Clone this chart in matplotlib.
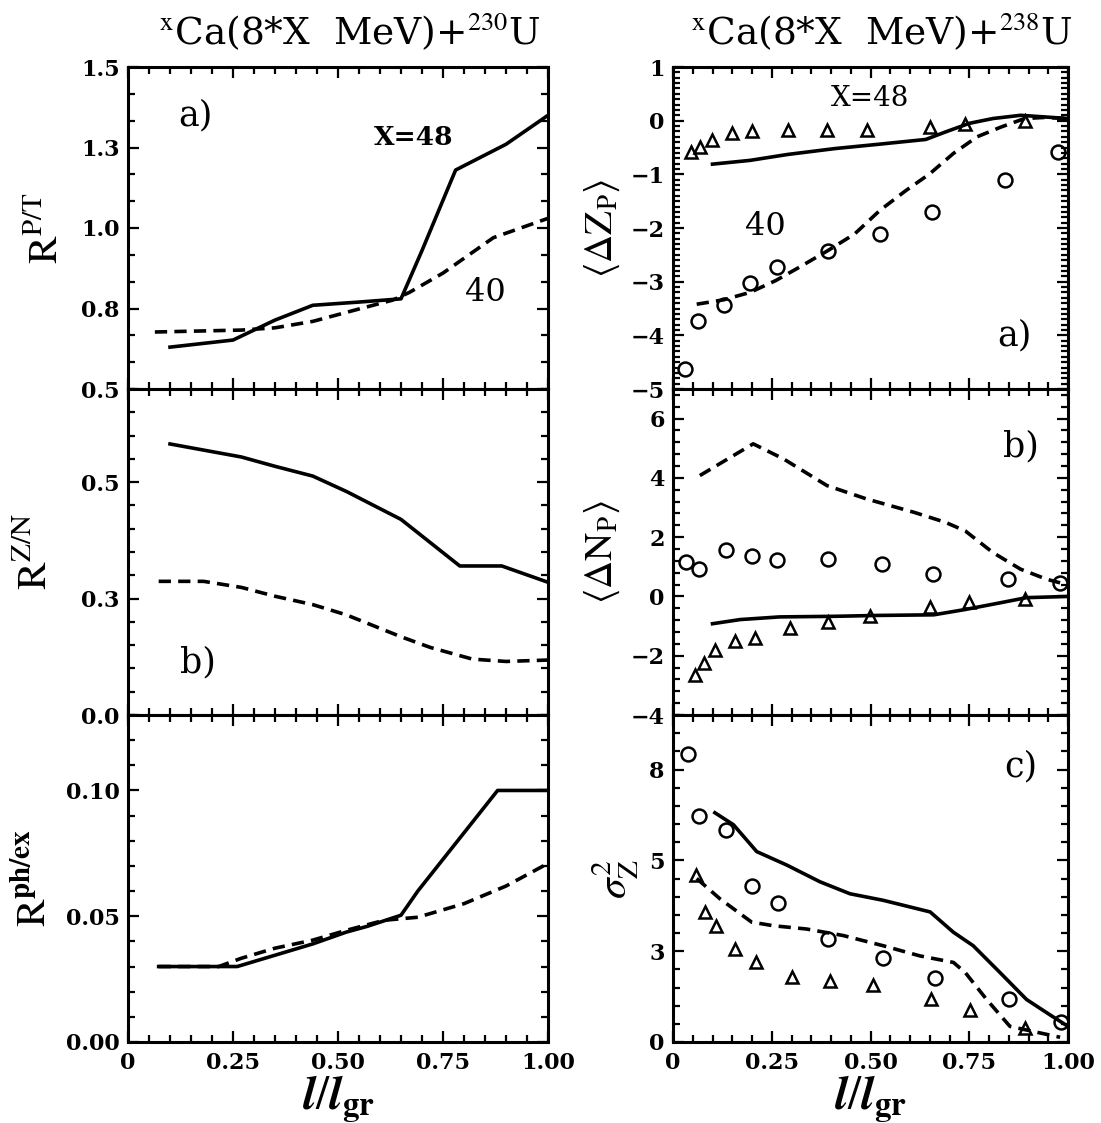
import matplotlib
matplotlib.use("Agg")
import matplotlib.pyplot as plt
from matplotlib.ticker import MultipleLocator, FixedLocator, FixedFormatter
from matplotlib.font_manager import FontProperties

plt.rcParams['font.family'] = ['DejaVu Serif']
plt.rcParams['mathtext.fontset'] = 'stix'

# ---------------- data: left column ----------------
# (a) R^{P/T}
a48_x = [0.10, 0.25, 0.35, 0.44, 0.55, 0.65, 0.70, 0.78, 0.90, 1.00]
a48_y = [0.63, 0.652, 0.714, 0.76, 0.77, 0.78, 0.93, 1.18, 1.26, 1.35]
a40_x = [0.064, 0.27, 0.35, 0.44, 0.54, 0.63, 0.67, 0.75, 0.87, 1.00]
a40_y = [0.677, 0.683, 0.69, 0.71, 0.745, 0.776, 0.80, 0.86, 0.97, 1.03]
# (b) R^{Z/N}
b48_x = [0.10, 0.27, 0.35, 0.44, 0.52, 0.65, 0.72, 0.79, 0.89, 1.00]
b48_y = [0.582, 0.554, 0.534, 0.513, 0.48, 0.42, 0.37, 0.32, 0.32, 0.285]
b40_x = [0.073, 0.18, 0.27, 0.35, 0.44, 0.52, 0.65, 0.72, 0.82, 0.90, 1.00]
b40_y = [0.287, 0.287, 0.274, 0.255, 0.237, 0.215, 0.168, 0.145, 0.12, 0.115, 0.118]
# (c) R^{ph/ex}
c48_x = [0.073, 0.26, 0.35, 0.44, 0.52, 0.57, 0.65, 0.69, 0.88, 1.00]
c48_y = [0.030, 0.030, 0.0345, 0.039, 0.0437, 0.046, 0.0504, 0.060, 0.100, 0.100]
c40_x = [0.073, 0.216, 0.27, 0.35, 0.44, 0.52, 0.61, 0.69, 0.80, 0.90, 1.00]
c40_y = [0.030, 0.030, 0.0333, 0.0373, 0.0405, 0.0444, 0.0484, 0.0496, 0.055, 0.062, 0.071]

# ---------------- data: right column ----------------
# (a) <dZ_P>
za48_x = [0.10, 0.195, 0.29, 0.41, 0.52, 0.64, 0.69, 0.75, 0.81, 0.88, 0.94, 1.00]
za48_y = [-0.81, -0.74, -0.63, -0.52, -0.44, -0.35, -0.21, -0.05, 0.04, 0.10, 0.07, 0.04]
za40_x = [0.06, 0.127, 0.195, 0.26, 0.32, 0.39, 0.46, 0.524, 0.59, 0.65, 0.71, 0.77, 0.83, 0.89, 0.94, 1.00]
za40_y = [-3.42, -3.34, -3.20, -2.98, -2.73, -2.43, -2.11, -1.67, -1.30, -0.99, -0.61, -0.30, -0.12, 0.04, 0.06, 0.04]
za_tri_x = [0.045, 0.068, 0.098, 0.149, 0.20, 0.29, 0.39, 0.49, 0.65, 0.74, 0.89]
za_tri_y = [-0.58, -0.49, -0.36, -0.23, -0.19, -0.18, -0.17, -0.17, -0.12, -0.07, 0.0]
za_cir_x = [0.03, 0.064, 0.13, 0.195, 0.264, 0.393, 0.524, 0.655, 0.84, 0.975]
za_cir_y = [-4.63, -3.73, -3.43, -3.03, -2.73, -2.42, -2.11, -1.70, -1.11, -0.58]
# (b) <dN_P>
nb48_x = [0.10, 0.17, 0.27, 0.41, 0.52, 0.66, 0.74, 0.83, 0.895, 1.00]
nb48_y = [-0.92, -0.78, -0.69, -0.67, -0.64, -0.62, -0.44, -0.21, -0.04, 0.0]
nb40_x = [0.068, 0.203, 0.28, 0.39, 0.49, 0.61, 0.69, 0.74, 0.81, 0.88, 0.946, 0.98]
nb40_y = [4.08, 5.15, 4.64, 3.74, 3.29, 2.84, 2.50, 2.21, 1.48, 0.92, 0.58, 0.46]
nb_tri_x = [0.056, 0.078, 0.106, 0.157, 0.208, 0.296, 0.393, 0.499, 0.65, 0.75, 0.89]
nb_tri_y = [-2.64, -2.25, -1.80, -1.51, -1.40, -1.06, -0.87, -0.67, -0.36, -0.19, -0.08]
nb_cir_x = [0.033, 0.067, 0.134, 0.199, 0.264, 0.393, 0.528, 0.659, 0.849, 0.98]
nb_cir_y = [1.16, 0.92, 1.57, 1.37, 1.22, 1.25, 1.08, 0.77, 0.58, 0.46]
# (c) sigma_Z^2
sc48_x = [0.106, 0.153, 0.212, 0.288, 0.372, 0.448, 0.532, 0.651, 0.71, 0.76, 0.828, 0.895, 0.954, 1.00]
sc48_y = [6.31, 5.98, 5.24, 4.87, 4.41, 4.08, 3.90, 3.58, 3.02, 2.65, 1.91, 1.17, 0.75, 0.43]
sc40_x = [0.06, 0.119, 0.199, 0.254, 0.338, 0.431, 0.532, 0.625, 0.71, 0.74, 0.794, 0.853, 0.912, 0.98]
sc40_y = [4.50, 3.94, 3.30, 3.20, 3.11, 2.93, 2.65, 2.37, 2.19, 1.91, 1.17, 0.43, 0.29, 0.13]
sc_tri_x = [0.058, 0.081, 0.108, 0.157, 0.209, 0.30, 0.397, 0.506, 0.653, 0.752, 0.891]
sc_tri_y = [4.59, 3.59, 3.18, 2.56, 2.19, 1.80, 1.68, 1.58, 1.17, 0.87, 0.38]
sc_cir_x = [0.039, 0.067, 0.134, 0.199, 0.267, 0.393, 0.531, 0.663, 0.851, 0.982]
sc_cir_y = [7.94, 6.21, 5.84, 4.30, 3.83, 2.83, 2.32, 1.77, 1.19, 0.56]

# tick labels (as printed in the figure)
la_ticks = [0.5, 0.75, 1.0, 1.25, 1.5]; la_labels = ["0.5", "0.8", "1.0", "1.3", "1.5"]
lb_ticks = [0.0, 0.25, 0.5];            lb_labels = ["0.0", "0.3", "0.5"]
lc_ticks = [0.0, 0.05, 0.10];           lc_labels = ["0.00", "0.05", "0.10"]
ra_ticks = [-5, -4, -3, -2, -1, 0, 1];   ra_labels = ["−5", "−4", "−3", "−2", "−1", "0", "1"]
rb_ticks = [-4, -2, 0, 2, 4, 6];        rb_labels = ["−4", "−2", "0", "2", "4", "6"]
rc_ticks = [0, 2.5, 5, 7.5];            rc_labels = ["0", "3", "5", "8"]
x_ticks = [0, 0.25, 0.5, 0.75, 1.0];    x_labels = ["0", "0.25", "0.50", "0.75", "1.00"]

W, H = 1101, 1123
fig = plt.figure(figsize=(W / 100, H / 100), dpi=100)

def ax_at(x0, x1, ytop, ybot):
    return fig.add_axes([x0 / W, 1 - ybot / H, (x1 - x0) / W, (ybot - ytop) / H])

rows = [(67, 389), (389, 715), (715, 1042)]
L0, L1 = 128, 548
R0, R1 = 673, 1068
axL = [ax_at(L0, L1, t, b) for t, b in rows]
axR = [ax_at(R0, R1, t, b) for t, b in rows]

tickfont = FontProperties(family='DejaVu Serif', weight='bold', size=16)

def style(ax, yt, yl, ymin, ymax, yminor, bottom_labels):
    ax.set_ylim(ymin, ymax)
    ax.set_xlim(0.0, 1.0)
    ax.yaxis.set_major_locator(FixedLocator(yt))
    ax.yaxis.set_major_formatter(FixedFormatter(yl))
    ax.yaxis.set_minor_locator(MultipleLocator(yminor))
    ax.xaxis.set_major_locator(FixedLocator(x_ticks))
    ax.xaxis.set_minor_locator(MultipleLocator(0.05))
    if bottom_labels:
        ax.xaxis.set_major_formatter(FixedFormatter(x_labels))
    else:
        ax.xaxis.set_major_formatter(FixedFormatter([""] * len(x_ticks)))
    ax.tick_params(which='both', direction='in', top=True, right=True, width=1.6)
    ax.tick_params(which='major', length=8)
    ax.tick_params(which='minor', length=5)
    for lab in ax.get_yticklabels() + ax.get_xticklabels():
        lab.set_fontproperties(tickfont)
    ax.tick_params(axis='x', pad=7)
    ax.tick_params(axis='y', pad=6)
    for s in ax.spines.values():
        s.set_linewidth(2.2)

LW = 2.6
dash = (0, (3.4, 2.0))
lab_font = dict(family='DejaVu Serif', fontsize=25, ha='center', va='center')

# left (a)
ax = axL[0]
ax.plot(a48_x, a48_y, 'k-', lw=LW)
ax.plot(a40_x, a40_y, 'k', ls=dash, lw=LW)
style(ax, la_ticks, la_labels, 0.5, 1.5, 0.25 / 3, False)
ax.text(0.16, 1.35, "a)", **lab_font)
ax.text(0.585, 1.28, "X=48", fontsize=19, weight='bold', family='DejaVu Serif', va='center')
ax.text(0.85, 0.80, "40", fontsize=23, family='DejaVu Serif', ha='center', va='center')
ax.set_ylabel(r"$\mathrm{R}^{\mathrm{P/T}}$", fontsize=30, labelpad=10)

# left (b)
ax = axL[1]
ax.plot(b48_x, b48_y, 'k-', lw=LW)
ax.plot(b40_x, b40_y, 'k', ls=dash, lw=LW)
style(ax, lb_ticks, lb_labels, 0.0, 0.7, 0.05, False)
ax.text(0.167, 0.112, "b)", **lab_font)
ax.set_ylabel(r"$\mathrm{R}^{\mathrm{Z/N}}$", fontsize=30, labelpad=18)

# left (c)
ax = axL[2]
ax.plot(c48_x, c48_y, 'k-', lw=LW)
ax.plot(c40_x, c40_y, 'k', ls=dash, lw=LW)
style(ax, lc_ticks, lc_labels, 0.0, 0.13, 0.01, True)
ax.set_ylabel(r"$\mathrm{R}^{\mathbf{ph/ex}}$", fontsize=30, labelpad=8)
ax.set_xlabel(r"$\boldsymbol{l}/\boldsymbol{l}_{\mathbf{gr}}$", fontsize=34, labelpad=0)

# right (a)
ax = axR[0]
ax.plot(za48_x, za48_y, 'k-', lw=LW)
ax.plot(za40_x, za40_y, 'k', ls=dash, lw=LW)
ax.plot(za_tri_x, za_tri_y, '^', mfc='none', mec='k', ms=8, mew=1.8)
ax.plot(za_cir_x, za_cir_y, 'o', mfc='none', mec='k', ms=10, mew=1.8)
style(ax, ra_ticks, ra_labels, -5, 1, 0.1, False)
ax.text(0.50, 0.42, "X=48", fontsize=20, ha='center', va='center', family='DejaVu Serif')
ax.text(0.233, -1.97, "40", fontsize=23, ha='center', va='center', family='DejaVu Serif')
ax.text(0.865, -4.0, "a)", **lab_font)
ax.set_ylabel(r"$\langle\Delta \mathrm{Z}_{\mathrm{P}}\rangle$", fontsize=28, labelpad=6)

# right (b)
ax = axR[1]
ax.plot(nb48_x, nb48_y, 'k-', lw=LW)
ax.plot(nb40_x, nb40_y, 'k', ls=dash, lw=LW)
ax.plot(nb_tri_x, nb_tri_y, '^', mfc='none', mec='k', ms=8, mew=1.8)
ax.plot(nb_cir_x, nb_cir_y, 'o', mfc='none', mec='k', ms=10, mew=1.8)
style(ax, rb_ticks, rb_labels, -4, 7, 0.4, False)
ax.text(0.88, 5.05, "b)", **lab_font)
ax.set_ylabel(r"$\langle\Delta \mathrm{N}_{\mathrm{P}}\rangle$", fontsize=28, labelpad=6)

# right (c)
ax = axR[2]
ax.plot(sc48_x, sc48_y, 'k-', lw=LW)
ax.plot(sc40_x, sc40_y, 'k', ls=dash, lw=LW)
ax.plot(sc_tri_x, sc_tri_y, '^', mfc='none', mec='k', ms=8, mew=1.8)
ax.plot(sc_cir_x, sc_cir_y, 'o', mfc='none', mec='k', ms=10, mew=1.8)
style(ax, rc_ticks, rc_labels, 0, 9, 0.5, True)
ax.text(0.88, 7.58, "c)", **lab_font)
ax.set_ylabel(r"$\sigma_{\mathrm{Z}}^{2}$", fontsize=30, labelpad=6)
ax.set_xlabel(r"$\boldsymbol{l}/\boldsymbol{l}_{\mathbf{gr}}$", fontsize=34, labelpad=0)

title_l = r"$^{\mathrm{x}}$Ca(8*X  MeV)+$^{230}$U"
title_r = r"$^{\mathrm{x}}$Ca(8*X  MeV)+$^{238}$U"
fig.text(350 / W, 1 - 32 / H, title_l, ha='center', va='center', fontsize=27, family='DejaVu Serif')
fig.text(882 / W, 1 - 32 / H, title_r, ha='center', va='center', fontsize=27, family='DejaVu Serif')

fig.savefig("out.png", dpi=100)
